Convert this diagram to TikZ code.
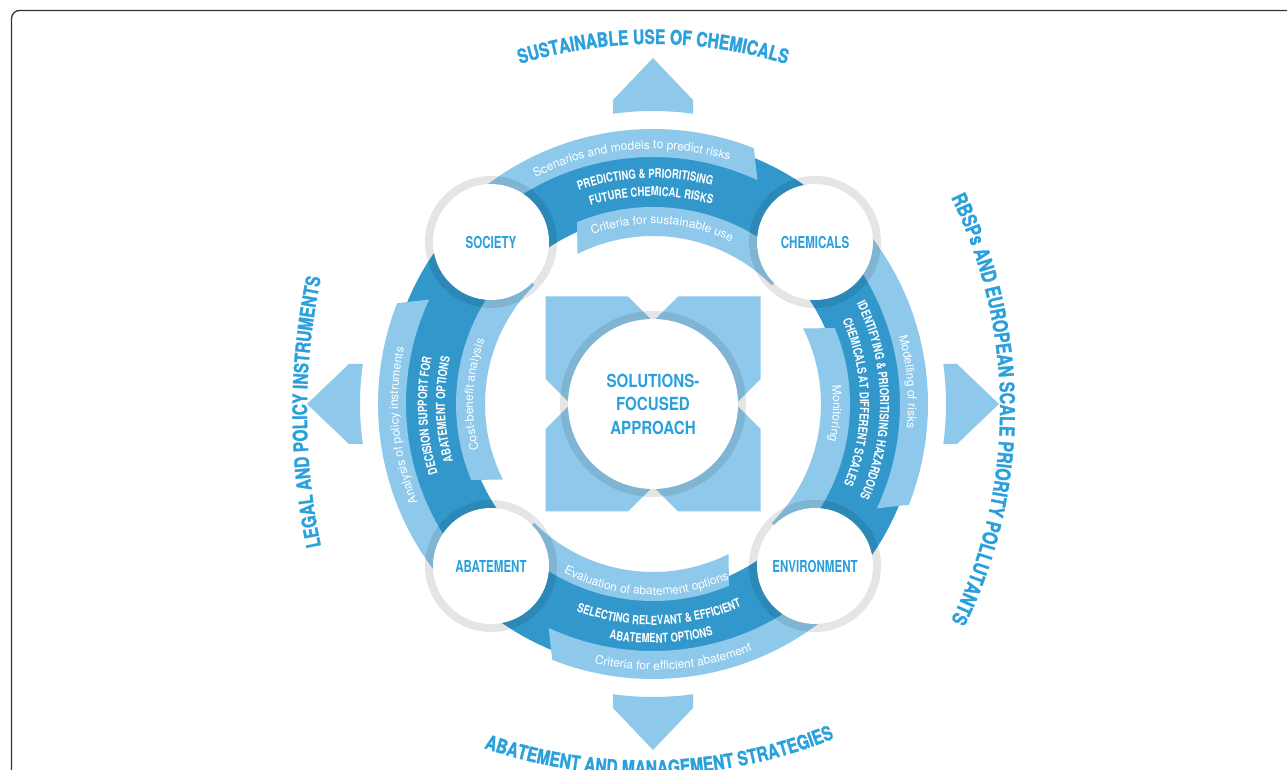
\documentclass[tikz,border=0pt]{standalone}
\usepackage{fontspec}
\usetikzlibrary{decorations.text}
\definecolor{tblue}{RGB}{42,160,220}
\definecolor{dblue}{RGB}{50,152,204}
\definecolor{lblue}{RGB}{142,201,236}
\newfontfamily\fN[FakeStretch=0.70]{TeX Gyre Heros}
\newfontfamily\fD[FakeStretch=0.76]{TeX Gyre Heros}
\newfontfamily\fT[FakeStretch=0.84]{TeX Gyre Heros}
\newfontfamily\fH[FakeStretch=0.78,FakeBold=1.2]{TeX Gyre Heros}
\newfontfamily\fL{TeX Gyre Heros}
\tikzset{
  ring/.style={draw=black, draw opacity=0.1, line width=8pt},
  lbl/.style={font=\fN\bfseries\fontsize{16.5}{18}\selectfont, text=tblue},
}
\newcommand\LT{|\fL\fontsize{12}{14}\selectfont|}
\newcommand\DT{|\fD\bfseries\fontsize{12.5}{14}\selectfont|}
\newcommand\TT{|\fH\bfseries\fontsize{20}{22}\selectfont|}
\begin{document}
\begin{tikzpicture}[x=1pt,y=1pt]
\useasboundingbox (0,0) rectangle (1287,770);
\clip (0,0) rectangle (1287,770);
\fill[white] (0,0) rectangle (1287,770);
\draw[black!80, line width=1.3pt, rounded corners=8pt] (11.5,-40) -- (11.5,759.5) -- (1330,759.5);

% titles
\path[shift={(653,276)}, decorate, decoration={text along path, text align=center, text color=tblue,
  text={\TT SUSTAINABLE USE OF CHEMICALS}}] (125:450) arc[start angle=125, end angle=55, radius=450];
\path[shift={(646,495)}, decorate, decoration={text along path, text align=center, text color=tblue,
  text={\TT ABATEMENT AND MANAGEMENT STRATEGIES}}] (231.6:500) arc[start angle=231.6, end angle=311.6, radius=500];
\path[shift={(957,358)}, decorate, decoration={text along path, text align=center, text color=tblue,
  text={\TT LEGAL AND POLICY INSTRUMENTS}}] (200:650) arc[start angle=200, end angle=160, radius=650];
\path[shift={(520,361)}, decorate, decoration={text along path, text align=center, text color=tblue,
  text={|\fH\bfseries\fontsize{20.5}{22}\selectfont|RBSPs AND EUROPEAN SCALE PRIORITY POLLUTANTS}}] (40:480) arc[start angle=40, end angle=-40, radius=480];

\begin{scope}[shift={(653,366)}]
 % arrows
 \foreach \a in {0,90,180,270}{
  \fill[lblue, rotate=\a] (0,346) -- (40,304) -- (82.15:293) arc[start angle=82.15, end angle=97.85, radius=293] -- (-40,304) -- cycle;
 }
 % X shape
 \fill[lblue] (-107.5,107.5) -- (-25,107.5) -- (0,82.5) -- (25,107.5) -- (107.5,107.5) -- (107.5,25) -- (82.5,0)
   -- (107.5,-25) -- (107.5,-107.5) -- (25,-107.5) -- (0,-82.5) -- (-25,-107.5) -- (-107.5,-107.5)
   -- (-107.5,-25) -- (-82.5,0) -- (-107.5,25) -- cycle;
 \fill[white] (0,0) circle (85);
 \draw[ring] (0,0) circle (89);
 \node[align=center, font=\fT\bfseries\fontsize{18}{23.5}\selectfont, text=tblue] (sfa) at (0,0) {SOLUTIONS-\\FOCUSED\\APPROACH};

 % bands
 \foreach \m in {90,0,-90,180}{
   \fill[dblue] ({\m+45}:266) arc[start angle=\m+45, end angle=\m-45, radius=266] -- ({\m-45}:188) arc[start angle=\m-45, end angle=\m+45, radius=188] -- cycle;
   \fill[lblue] ({\m+45}:275) arc[start angle=\m+45, end angle=\m-21.5, radius=275] -- ({\m-25}:247) arc[start angle=\m-25, end angle=\m+45, radius=247] -- cycle;
   \fill[lblue] ({\m-45}:197) arc[start angle=\m-45, end angle=\m+22.7, radius=197] -- ({\m+26.7}:168) arc[start angle=\m+26.7, end angle=\m-45, radius=168] -- cycle;
 }

 % top segment texts
 \path[decorate, decoration={text along path, text align=center, text color=white, text={\LT Scenarios and models to predict risks}}]
   (145:255) arc[start angle=145, end angle=45, radius=255];
 \path[decorate, decoration={text along path, text align=center, text color=white, text={\LT Criteria for sustainable use}}]
   (147:180) arc[start angle=147, end angle=27, radius=180];
 \path[decorate, decoration={text along path, text align=center, text color=white, text={\DT PREDICTING {\&} PRIORITISING}}]
   (142:226) arc[start angle=142, end angle=42, radius=226];
 \path[decorate, decoration={text along path, text align=center, text color=white, text={\DT FUTURE CHEMICAL RISKS}}]
   (140.5:208) arc[start angle=140.5, end angle=40.5, radius=208];

 % right segment texts
 \path[decorate, decoration={text along path, text align=center, text color=white, text={\LT Modelling of risks}}]
   (55:255) arc[start angle=55, end angle=-45, radius=255];
 \path[decorate, decoration={text along path, text align=center, text color=white, text={\LT Monitoring}}]
   (57:180) arc[start angle=57, end angle=-63, radius=180];
 \path[decorate, decoration={text along path, text align=center, text color=white, text={\DT IDENTIFYING {\&} PRIORITISING HAZARDOUS}}]
   (61:227) arc[start angle=61, end angle=-59, radius=227];
 \path[decorate, decoration={text along path, text align=center, text color=white, text={\DT CHEMICALS AT DIFFERENT SCALES}}]
   (60.5:207) arc[start angle=60.5, end angle=-59.5, radius=207];

 % left segment texts
 \path[decorate, decoration={text along path, text align=center, text color=white, text={\LT Analysis of policy instruments}}]
   (235:255) arc[start angle=235, end angle=135, radius=255];
 \path[decorate, decoration={text along path, text align=center, text color=white, text={\LT Cost-benefit analysis}}]
   (237:180) arc[start angle=237, end angle=117, radius=180];
 \path[decorate, decoration={text along path, text align=center, text color=white, text={\DT DECISION SUPPORT FOR}}]
   (233:226) arc[start angle=233, end angle=133, radius=226];
 \path[decorate, decoration={text along path, text align=center, text color=white, text={\DT ABATEMENT OPTIONS}}]
   (231.5:208) arc[start angle=231.5, end angle=131.5, radius=208];

 % bottom segment texts
 \path[decorate, decoration={text along path, text align=center, text color=white, text={\LT Criteria for efficient abatement}}]
   (224.6:266) arc[start angle=224.6, end angle=324.6, radius=266];
 \path[decorate, decoration={text along path, text align=center, text color=white, text={\LT Evaluation of abatement options}}]
   (207.8:191) arc[start angle=207.8, end angle=327.8, radius=191];
 \path[decorate, decoration={text along path, text align=center, text color=white, text={\DT SELECTING RELEVANT {\&} EFFICIENT}}]
   (221.7:221) arc[start angle=221.7, end angle=321.7, radius=221];
 \path[decorate, decoration={text along path, text align=center, text color=white, text={\DT ABATEMENT OPTIONS}}]
   (222:239) arc[start angle=222, end angle=322, radius=239];

 % corner circles
 \foreach \p in {(-162,162),(162,162),(-162,-162),(162,-162)}{
   \fill[white] \p circle (58);
   \draw[ring] \p circle (62);
 }
 \node[lbl] (soc) at (-162,162) {SOCIETY};
 \node[lbl] (che) at (162,162) {CHEMICALS};
 \node[lbl] (aba) at (-162,-162) {ABATEMENT};
 \node[lbl] (env) at (162,-162) {ENVIRONMENT};
\end{scope}
\end{tikzpicture}
\end{document}
